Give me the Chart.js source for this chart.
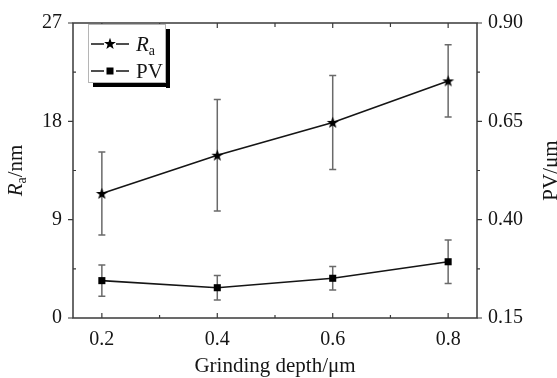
<!DOCTYPE html>
<html>
<head>
<meta charset="utf-8">
<script src="https://cdn.jsdelivr.net/npm/chart.js@4.4.1/dist/chart.umd.min.js"></script>
<style>
  html, body { margin: 0; padding: 0; background: #ffffff; }
  #wrap { width: 557px; height: 378px; position: relative; }
</style>
</head>
<body>
<div id="wrap"><canvas id="c" width="557" height="378"></canvas></div>
<script>
// ---- data ----
const depth = [0.2, 0.4, 0.6, 0.8];             // grinding depth / um
const raValues = [11.4, 14.9, 17.9, 21.7];       // Ra / nm
const raErrors = [3.8, 5.1, 4.3, 3.3];
const pvValues = [0.245, 0.227, 0.251, 0.293];   // PV / um
const pvErrors = [0.040, 0.031, 0.030, 0.055];
const xTicks = [0.2, 0.4, 0.6, 0.8];
const xMinorTicks = [0.3, 0.5, 0.7];
const leftTicks = [0, 9, 18, 27];
const leftMinorTicks = [4.5, 13.5, 22.5];
const rightTicks = [0.15, 0.40, 0.65, 0.90];
const rightMinorTicks = [0.275, 0.525, 0.775];

const SERIF = "'Liberation Serif', 'Times New Roman', serif";
const INK = '#151515';

function starPath(ctx, cx, cy, rOut, rIn) {
  ctx.beginPath();
  for (let i = 0; i < 10; i++) {
    const r = i % 2 === 0 ? rOut : rIn;
    const a = -Math.PI / 2 + i * Math.PI / 5;
    const px = cx + r * Math.cos(a), py = cy + r * Math.sin(a);
    if (i === 0) ctx.moveTo(px, py); else ctx.lineTo(px, py);
  }
  ctx.closePath();
}
const starImg = document.createElement('canvas');
starImg.width = 13; starImg.height = 13;
(function () {
  const g = starImg.getContext('2d');
  g.fillStyle = '#000';
  starPath(g, 6.5, 7, 6.2, 2.5);
  g.fill();
})();

const raPoints = depth.map((d, i) => ({ x: d, y: raValues[i] }));
const pvPoints = depth.map((d, i) => ({ x: d, y: pvValues[i] }));

const errorBars = {
  id: 'errorBars',
  beforeDatasetsDraw(chart) {
    const ctx = chart.ctx;
    const xs = chart.scales.x;
    const sets = [
      { vals: raValues, errs: raErrors, scale: chart.scales.yL },
      { vals: pvValues, errs: pvErrors, scale: chart.scales.yR }
    ];
    ctx.save();
    ctx.strokeStyle = '#6a6a6a';
    ctx.lineWidth = 1.5;
    sets.forEach(s => {
      depth.forEach((d, i) => {
        const x = xs.getPixelForValue(d);
        const yt = s.scale.getPixelForValue(s.vals[i] + s.errs[i]);
        const yb = s.scale.getPixelForValue(s.vals[i] - s.errs[i]);
        ctx.beginPath();
        ctx.moveTo(x, yt); ctx.lineTo(x, yb);
        ctx.moveTo(x - 3.5, yt); ctx.lineTo(x + 3.5, yt);
        ctx.moveTo(x - 3.5, yb); ctx.lineTo(x + 3.5, yb);
        ctx.stroke();
      });
    });
    ctx.restore();
  }
};

const frameAndText = {
  id: 'frameAndText',
  afterDraw(chart) {
    const ctx = chart.ctx;
    const a = chart.chartArea;
    const xs = chart.scales.x, yl = chart.scales.yL, yr = chart.scales.yR;
    ctx.save();
    // frame
    ctx.strokeStyle = '#3a3a3a';
    ctx.lineWidth = 1.5;
    ctx.strokeRect(a.left, a.top, a.right - a.left, a.bottom - a.top);
    ctx.lineWidth = 1.2;
    ctx.beginPath();
    // x ticks: inward at bottom and top
    xTicks.forEach(v => {
      const x = xs.getPixelForValue(v);
      ctx.moveTo(x, a.bottom); ctx.lineTo(x, a.bottom - 5);
      ctx.moveTo(x, a.top); ctx.lineTo(x, a.top + 5);
    });
    xMinorTicks.forEach(v => {
      const x = xs.getPixelForValue(v);
      ctx.moveTo(x, a.bottom); ctx.lineTo(x, a.bottom - 3);
      ctx.moveTo(x, a.top); ctx.lineTo(x, a.top + 4);
    });
    // y ticks: outward
    leftTicks.forEach(v => {
      const y = yl.getPixelForValue(v);
      ctx.moveTo(a.left, y); ctx.lineTo(a.left - 5, y);
    });
    leftMinorTicks.forEach(v => {
      const y = yl.getPixelForValue(v);
      ctx.moveTo(a.left, y); ctx.lineTo(a.left + 3, y);
    });
    rightTicks.forEach(v => {
      const y = yr.getPixelForValue(v);
      ctx.moveTo(a.right, y); ctx.lineTo(a.right + 5, y);
    });
    rightMinorTicks.forEach(v => {
      const y = yr.getPixelForValue(v);
      ctx.moveTo(a.right, y); ctx.lineTo(a.right + 3, y);
    });
    ctx.stroke();

    // x title
    ctx.fillStyle = INK;
    ctx.font = '21px ' + SERIF;
    ctx.textAlign = 'center';
    ctx.textBaseline = 'alphabetic';
    ctx.fillText('Grinding depth/\u03bcm', (a.left + a.right) / 2, 372);

    // left title: R (italic) a (subscript) /nm, rotated
    const cy = (a.top + a.bottom) / 2;
    ctx.save();
    ctx.translate(22, cy);
    ctx.rotate(-Math.PI / 2);
    ctx.textAlign = 'left';
    const fR = 'italic 21px ' + SERIF, fSub = '14px ' + SERIF, fN = '21px ' + SERIF;
    ctx.font = fR; const wR = ctx.measureText('R').width;
    ctx.font = fSub; const wA = ctx.measureText('a').width;
    ctx.font = fN; const wN = ctx.measureText('/nm').width;
    let x0 = -(wR + wA + wN) / 2;
    ctx.font = fR; ctx.fillText('R', x0, 0); x0 += wR;
    ctx.font = fSub; ctx.fillText('a', x0, 4); x0 += wA;
    ctx.font = fN; ctx.fillText('/nm', x0, 0);
    ctx.restore();

    // right title
    ctx.save();
    ctx.translate(557, cy);
    ctx.rotate(-Math.PI / 2);
    ctx.textAlign = 'center';
    ctx.font = '21px ' + SERIF;
    ctx.fillText('PV/\u03bcm', 0, 0);
    ctx.restore();

    // legend
    const bx = 88, by = 24, bw = 78, bh = 59;
    ctx.fillStyle = '#000';
    ctx.fillRect(bx + bw, by + 5, 4, bh);
    ctx.fillRect(bx + 5, by + bh, bw - 1, 4);
    ctx.fillStyle = '#fff';
    ctx.fillRect(bx, by, bw, bh);
    ctx.strokeStyle = '#b5b5b5';
    ctx.lineWidth = 1;
    ctx.strokeRect(bx + 0.5, by + 0.5, bw - 1, bh - 1);

    const rows = [44, 71];
    ctx.strokeStyle = INK;
    ctx.lineWidth = 1.6;
    rows.forEach(y => {
      ctx.beginPath();
      ctx.moveTo(91, y); ctx.lineTo(104, y);
      ctx.moveTo(116, y); ctx.lineTo(129, y);
      ctx.stroke();
    });
    ctx.fillStyle = '#000';
    starPath(ctx, 110, rows[0], 6.2, 2.5); ctx.fill();
    ctx.fillRect(106.5, rows[1] - 3.5, 7, 7);

    ctx.fillStyle = INK;
    ctx.textAlign = 'left';
    ctx.textBaseline = 'alphabetic';
    ctx.font = fR; ctx.fillText('R', 136, rows[0] + 7);
    const wR2 = ctx.measureText('R').width;
    ctx.font = fSub; ctx.fillText('a', 136 + wR2, rows[0] + 11);
    ctx.font = fN; ctx.fillText('PV', 136, rows[1] + 7);
    ctx.restore();
  }
};

new Chart(document.getElementById('c'), {
  type: 'line',
  data: {
    datasets: [
      {
        label: 'Ra', data: raPoints, yAxisID: 'yL',
        borderColor: INK, borderWidth: 1.6, backgroundColor: '#000',
        pointStyle: starImg, pointRadius: 6, tension: 0
      },
      {
        label: 'PV', data: pvPoints, yAxisID: 'yR',
        borderColor: INK, borderWidth: 1.6, backgroundColor: '#000',
        pointBorderColor: '#000', pointBackgroundColor: '#000',
        pointStyle: 'rect', pointRadius: 5, pointBorderWidth: 0, tension: 0
      }
    ]
  },
  options: {
    responsive: false,
    animation: false,
    events: [],
    layout: { padding: { top: 19, left: 0, right: 0, bottom: 0 } },
    plugins: { legend: { display: false }, tooltip: { enabled: false } },
    scales: {
      x: {
        type: 'linear', position: 'bottom', min: 0.15, max: 0.85,
        grid: { display: false, drawTicks: false }, border: { display: false },
        afterBuildTicks: s => { s.ticks = xTicks.map(v => ({ value: v })); },
        afterFit: s => { s.height = 60; },
        ticks: {
          padding: 10, color: INK, font: { family: SERIF, size: 20 },
          callback: v => Number(v).toFixed(1), maxRotation: 0
        }
      },
      yL: {
        type: 'linear', position: 'left', min: 0, max: 27,
        grid: { display: false, drawTicks: false }, border: { display: false },
        afterBuildTicks: s => { s.ticks = leftTicks.map(v => ({ value: v })); },
        afterFit: s => { s.width = 73; },
        ticks: {
          padding: 11, color: INK, font: { family: SERIF, size: 20 },
          callback: v => String(v)
        }
      },
      yR: {
        type: 'linear', position: 'right', min: 0.15, max: 0.90,
        grid: { display: false, drawTicks: false }, border: { display: false },
        afterBuildTicks: s => { s.ticks = rightTicks.map(v => ({ value: v })); },
        afterFit: s => { s.width = 80; },
        ticks: {
          padding: 11, color: INK, font: { family: SERIF, size: 20 },
          callback: v => Number(v).toFixed(2)
        }
      }
    }
  },
  plugins: [errorBars, frameAndText]
});
</script>
</body>
</html>
